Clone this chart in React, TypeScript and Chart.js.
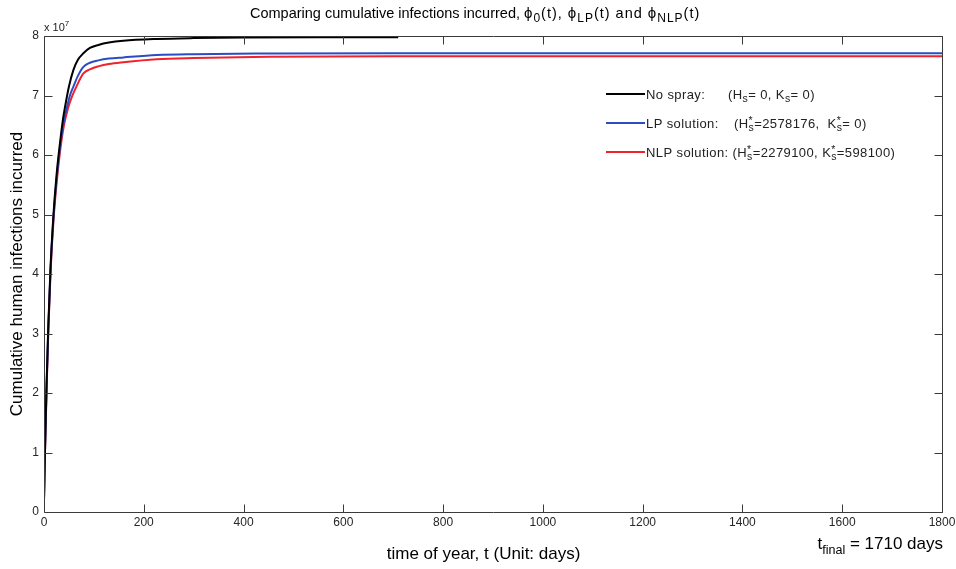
import React, { useEffect, useRef } from 'react';
import { Chart, registerables } from 'chart.js';

Chart.register(...registerables);

const FONT = '"Liberation Sans", Arial, Helvetica, sans-serif';

// Values of y are in units of 10^7 infections
const noSprayT = [0, 2, 5, 8.5, 13, 19, 25, 32, 38, 42, 50, 59, 68, 79, 92, 109, 130, 159, 226, 300, 400, 550, 710];
const noSprayV = [0.2, 1.05, 2.1, 3.1, 4.1, 5.0, 5.65, 6.2, 6.6, 6.8, 7.15, 7.43, 7.6, 7.71, 7.8, 7.85, 7.89, 7.92, 7.95, 7.965, 7.975, 7.98, 7.98];

const lpT = [0, 2, 5, 8.5, 13, 19, 25, 32, 40, 46, 52, 59, 68, 79, 92, 109, 130, 159, 226, 300, 450, 700, 1000, 1400, 1800];
const lpV = [0.2, 1.02, 2.05, 3.05, 4.05, 4.95, 5.57, 6.12, 6.58, 6.8, 7.0, 7.15, 7.33, 7.48, 7.55, 7.59, 7.62, 7.64, 7.68, 7.695, 7.705, 7.71, 7.71, 7.71, 7.71];

const nlpT = [0, 2, 5, 8.5, 13, 19, 25, 32, 40, 48, 56, 65, 79, 92, 109, 130, 159, 226, 300, 450, 700, 1000, 1400, 1800];
const nlpV = [0.2, 1.0, 2.0, 3.0, 4.0, 4.9, 5.5, 6.05, 6.5, 6.78, 6.98, 7.15, 7.37, 7.44, 7.49, 7.53, 7.56, 7.61, 7.63, 7.65, 7.66, 7.66, 7.66, 7.66];

const xMin = 0;
const xMax = 1800;
const xStep = 200;
const yMin = 0;
const yMax = 8;
const yStep = 1;

const seriesLabels = ['No spray', 'LP solution', 'NLP solution'];
const seriesColors = ['#000000', '#2b4cc4', '#f0222c'];

const titleText = 'Comparing cumulative infections incurred';
const xTitle = 'time of year, t (Unit: days)    ';
const yTitle = 'Cumulative human infections incurred';

type Seg = { t: string; k?: 'sub' | 'sup' | 'ss'; sz?: number; ls?: number };

function fontOf(size: number) {
  return `${size}px ${FONT}`;
}

function drawRich(
  ctx: CanvasRenderingContext2D,
  x: number,
  y: number,
  segs: Seg[],
  size: number,
  subSize: number,
  align: 'left' | 'center' | 'right',
  color: string,
  spacing = 0
) {
  const setup = (s: Seg) => {
    const sz = s.sz ?? (s.k ? subSize : size);
    ctx.font = fontOf(sz);
    (ctx as any).letterSpacing = `${s.ls ?? spacing}px`;
  };
  const widths = segs.map((s) => {
    setup(s);
    if (s.k === 'ss') return Math.max(ctx.measureText('*').width, ctx.measureText(s.t).width);
    return ctx.measureText(s.t).width;
  });
  const total = widths.reduce((a, b) => a + b, 0);
  let cx = align === 'left' ? x : align === 'center' ? x - total / 2 : x - total;
  ctx.fillStyle = color;
  ctx.textAlign = 'left';
  ctx.textBaseline = 'alphabetic';
  segs.forEach((s, i) => {
    setup(s);
    if (!s.k) {
      ctx.fillText(s.t, cx, y);
    } else if (s.k === 'sub') {
      ctx.fillText(s.t, cx, y + size * 0.3);
    } else if (s.k === 'sup') {
      ctx.fillText(s.t, cx, y - size * 0.45);
    } else {
      ctx.fillText('*', cx, y - size * 0.3);
      ctx.fillText(s.t, cx, y + size * 0.3);
    }
    cx += widths[i];
  });
  (ctx as any).letterSpacing = '0px';
}

const overlay = {
  id: 'overlay',
  afterDraw(chart: any) {
    const { ctx, chartArea, scales } = chart;
    const { left, right, top, bottom } = chartArea;
    const xs = scales.x;
    const ys = scales.y;
    ctx.save();
    const L = Math.round(left) + 0.5;
    const R = Math.round(right) + 0.5;
    const T = Math.round(top) + 0.5;
    const B = Math.round(bottom) + 0.5;
    ctx.strokeStyle = '#3a3a3a';
    ctx.lineWidth = 1;
    ctx.beginPath();
    ctx.rect(L, T, R - L, B - T);
    ctx.stroke();
    const tl = 8;
    ctx.beginPath();
    xs.ticks.forEach((tk: any) => {
      const px = Math.round(xs.getPixelForValue(tk.value)) + 0.5;
      ctx.moveTo(px, B);
      ctx.lineTo(px, B - tl);
      ctx.moveTo(px, T);
      ctx.lineTo(px, T + tl);
    });
    ys.ticks.forEach((tk: any) => {
      const py = Math.round(ys.getPixelForValue(tk.value)) + 0.5;
      ctx.moveTo(L, py);
      ctx.lineTo(L + tl, py);
      ctx.moveTo(R, py);
      ctx.lineTo(R - tl, py);
    });
    ctx.stroke();

    // title
    drawRich(
      ctx,
      250,
      18,
      [
        { t: titleText + ', ' },
        { t: 'ϕ', sz: 15, ls: 1 },
        { t: '0', k: 'sub', ls: 1 },
        { t: '(t), ', ls: 1 },
        { t: 'ϕ', sz: 15, ls: 1 },
        { t: 'LP', k: 'sub', ls: 1 },
        { t: '(t) and ', ls: 1 },
        { t: 'ϕ', sz: 15, ls: 1 },
        { t: 'NLP', k: 'sub', ls: 1 },
        { t: '(t)', ls: 1 },
      ],
      14.5,
      12,
      'left',
      '#000'
    );

    // exponent
    drawRich(ctx, left, 31, [{ t: 'x 10' }, { t: '7', k: 'sup' }], 11, 8, 'left', '#222');

    // legend
    const rowsY = [94, 123, 152];
    const lx0 = 606;
    const lx1 = 645;
    const tx = 646;
    const rows: { a: Seg[]; bx?: number; b: Seg[] }[] = [
      {
        a: [{ t: seriesLabels[0] + ':' }],
        bx: 728,
        b: [{ t: '(H' }, { t: 's', k: 'sub' }, { t: '= 0, K' }, { t: 's', k: 'sub' }, { t: '= 0)' }],
      },
      {
        a: [{ t: seriesLabels[1] + ':' }],
        bx: 734,
        b: [{ t: '(H' }, { t: 's', k: 'ss' }, { t: '=2578176,  K' }, { t: 's', k: 'ss' }, { t: '= 0)' }],
      },
      {
        a: [],
        b: [
          { t: seriesLabels[2] + ': (H' },
          { t: 's', k: 'ss' },
          { t: '=2279100, K' },
          { t: 's', k: 'ss' },
          { t: '=598100)' },
        ],
      },
    ];
    rows.forEach((r, i) => {
      const yy = rowsY[i];
      ctx.strokeStyle = seriesColors[i];
      ctx.lineWidth = 2;
      ctx.beginPath();
      ctx.moveTo(lx0, yy);
      ctx.lineTo(lx1, yy);
      ctx.stroke();
      if (r.a.length) drawRich(ctx, tx, yy + 4.5, r.a, 13, 10.5, 'left', '#222', 0.4);
      drawRich(ctx, r.bx ?? tx, yy + 4.5, r.b, 13, 10.5, 'left', '#222', 0.4);
    });

    // t_final
    drawRich(
      ctx,
      943,
      549,
      [{ t: 't' }, { t: 'final', k: 'sub' }, { t: ' = 1710 days' }],
      17,
      12.5,
      'right',
      '#000'
    );
    ctx.restore();
  },
};

export default function App() {
  const ref = useRef<HTMLCanvasElement>(null);
  useEffect(() => {
    if (!ref.current) return;
    Chart.defaults.font.family = FONT;
    const mk = (t: number[], v: number[]) => t.map((tt, i) => ({ x: tt, y: v[i] }));
    const chart = new Chart(ref.current, {
      type: 'line',
      data: {
        datasets: [
          { label: seriesLabels[0], data: mk(noSprayT, noSprayV), borderColor: seriesColors[0] },
          { label: seriesLabels[1], data: mk(lpT, lpV), borderColor: seriesColors[1] },
          { label: seriesLabels[2], data: mk(nlpT, nlpV), borderColor: seriesColors[2] },
        ].map((d) => ({
          ...d,
          borderWidth: 2,
          pointRadius: 0,
          fill: false,
          cubicInterpolationMode: 'monotone' as const,
        })),
      },
      options: {
        responsive: false,
        animation: false,
        layout: { padding: { top: 36, right: 14, left: 0, bottom: 0 } },
        plugins: {
          legend: { display: false },
          tooltip: { enabled: false },
          title: { display: false },
        },
        scales: {
          x: {
            type: 'linear',
            min: xMin,
            max: xMax,
            ticks: {
              stepSize: xStep,
              color: '#262626',
              font: { family: FONT, size: 12 },
              padding: 3,
              maxRotation: 0,
              autoSkip: false,
              callback: (v: any) => String(v),
            },
            grid: { display: false, drawTicks: false },
            border: { display: false },
            title: {
              display: true,
              text: xTitle,
              color: '#000',
              font: { family: FONT, size: 17 },
              padding: { top: 0, bottom: 4 },
            },
            afterFit: (s: any) => {
              s.height = 57;
              s.paddingLeft = 0;
              s.paddingRight = 0;
            },
          },
          y: {
            type: 'linear',
            min: yMin,
            max: yMax,
            ticks: {
              stepSize: yStep,
              color: '#262626',
              font: { family: FONT, size: 12 },
              padding: 5,
              callback: (v: any) => String(v),
            },
            grid: { display: false, drawTicks: false },
            border: { display: false },
            title: {
              display: true,
              text: yTitle,
              color: '#000',
              font: { family: FONT, size: 17 },
              padding: { top: 7, bottom: 0 },
            },
            afterFit: (s: any) => {
              s.width = 44;
              s.paddingTop = 0;
              s.paddingBottom = 0;
            },
          },
        },
      },
      plugins: [overlay],
    });
    return () => chart.destroy();
  }, []);
  return (
    <div style={{ position: 'absolute', left: 0, top: 0, width: 956, height: 569, background: '#fff' }}>
      <canvas ref={ref} width={956} height={569} />
    </div>
  );
}
